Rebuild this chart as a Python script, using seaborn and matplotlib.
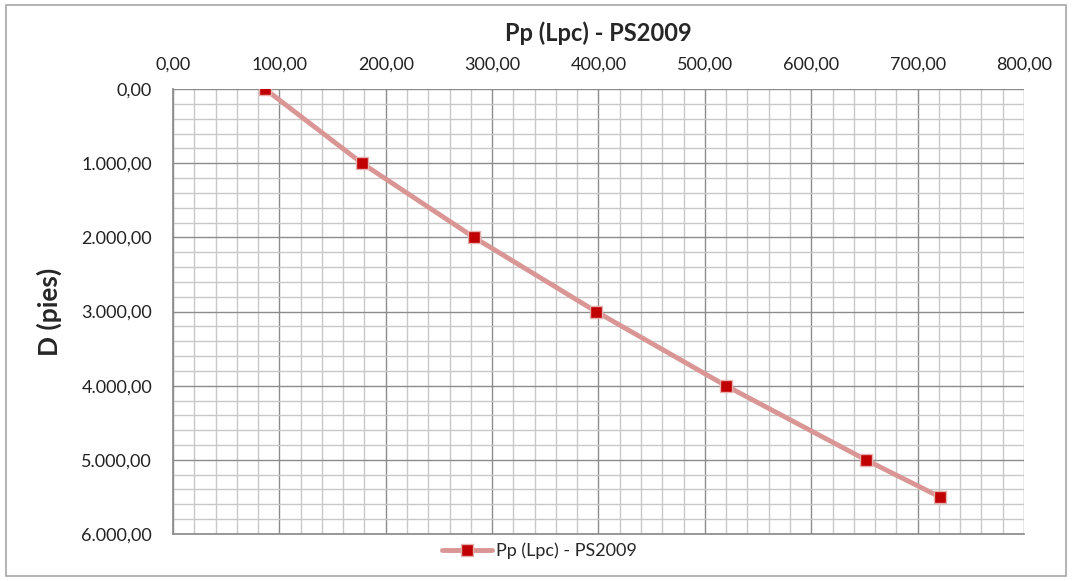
import numpy as np
import pandas as pd
import seaborn as sns
import matplotlib.pyplot as plt
from matplotlib.ticker import MultipleLocator, FuncFormatter
from matplotlib.patches import Rectangle

# Data
depth_ft = [0, 1000, 2000, 3000, 4000, 5000, 5500]
pressure_lpc = [86.5, 177.6, 282.9, 397.6, 519.7, 651.3, 720.9]
series_name = "Pp (Lpc) - PS2009"


def es_format(v, _pos=None):
    """Format numbers as 1.000,00 (Spanish style)."""
    s = f"{v:,.2f}"
    return s.replace(",", "X").replace(".", ",").replace("X", ".")


sns.set_theme(style="white")
plt.rcParams['font.family'] = ['Lato', 'DejaVu Sans']

df = pd.DataFrame({"D": depth_ft, "Pp": pressure_lpc})

fig = plt.figure(figsize=(10.72, 5.81), dpi=100)
ax = fig.add_axes([0.1614, 0.0809, 0.7938, 0.7659])

sns.lineplot(data=df, x="Pp", y="D", sort=False, ax=ax,
             color="#D99694", linewidth=3.5, marker="s", markersize=8,
             markerfacecolor="#C00000", markeredgecolor="#E6B0AE",
             markeredgewidth=1, label=series_name, zorder=3)

ax.set_xlim(0, 800)
ax.set_ylim(6000, 0)
ax.xaxis.set_major_locator(MultipleLocator(100))
ax.xaxis.set_minor_locator(MultipleLocator(20))
ax.yaxis.set_major_locator(MultipleLocator(1000))
ax.yaxis.set_minor_locator(MultipleLocator(200))
ax.xaxis.set_major_formatter(FuncFormatter(es_format))
ax.yaxis.set_major_formatter(FuncFormatter(es_format))

ax.xaxis.tick_top()
ax.xaxis.set_label_position("top")
ax.grid(which="major", color="#8C8C8C", linewidth=1.0)
ax.grid(which="minor", color="#C8C8C8", linewidth=1.0)
ax.set_axisbelow(True)

for side in ["top", "right"]:
    ax.spines[side].set_visible(False)
ax.spines["left"].set_color("#8C8C8C")
ax.spines["bottom"].set_color("#8C8C8C")

ax.tick_params(axis="both", which="major", labelsize=13, colors="#222222")
ax.tick_params(axis="x", which="major", length=0, pad=12)
ax.tick_params(axis="y", which="major", length=5, width=1, direction="out",
               color="#8C8C8C", pad=10)
ax.tick_params(which="minor", length=0)

ax.set_xlabel(series_name, fontsize=17, fontweight="bold", labelpad=11)
ax.set_ylabel("D (pies)", fontsize=19, fontweight="bold", labelpad=14)

ax.get_legend().remove()
handles, labels = ax.get_legend_handles_labels()
fig.legend(handles, labels, loc="center", bbox_to_anchor=(0.503, 0.052),
           frameon=False, fontsize=13, handlelength=2.8, handletextpad=0.2)

fig.add_artist(Rectangle((0.006, 0.008), 0.988, 0.984, transform=fig.transFigure,
                         fill=False, edgecolor="#A6A6A6", linewidth=1.2))

fig.savefig("out.png", dpi=100)
